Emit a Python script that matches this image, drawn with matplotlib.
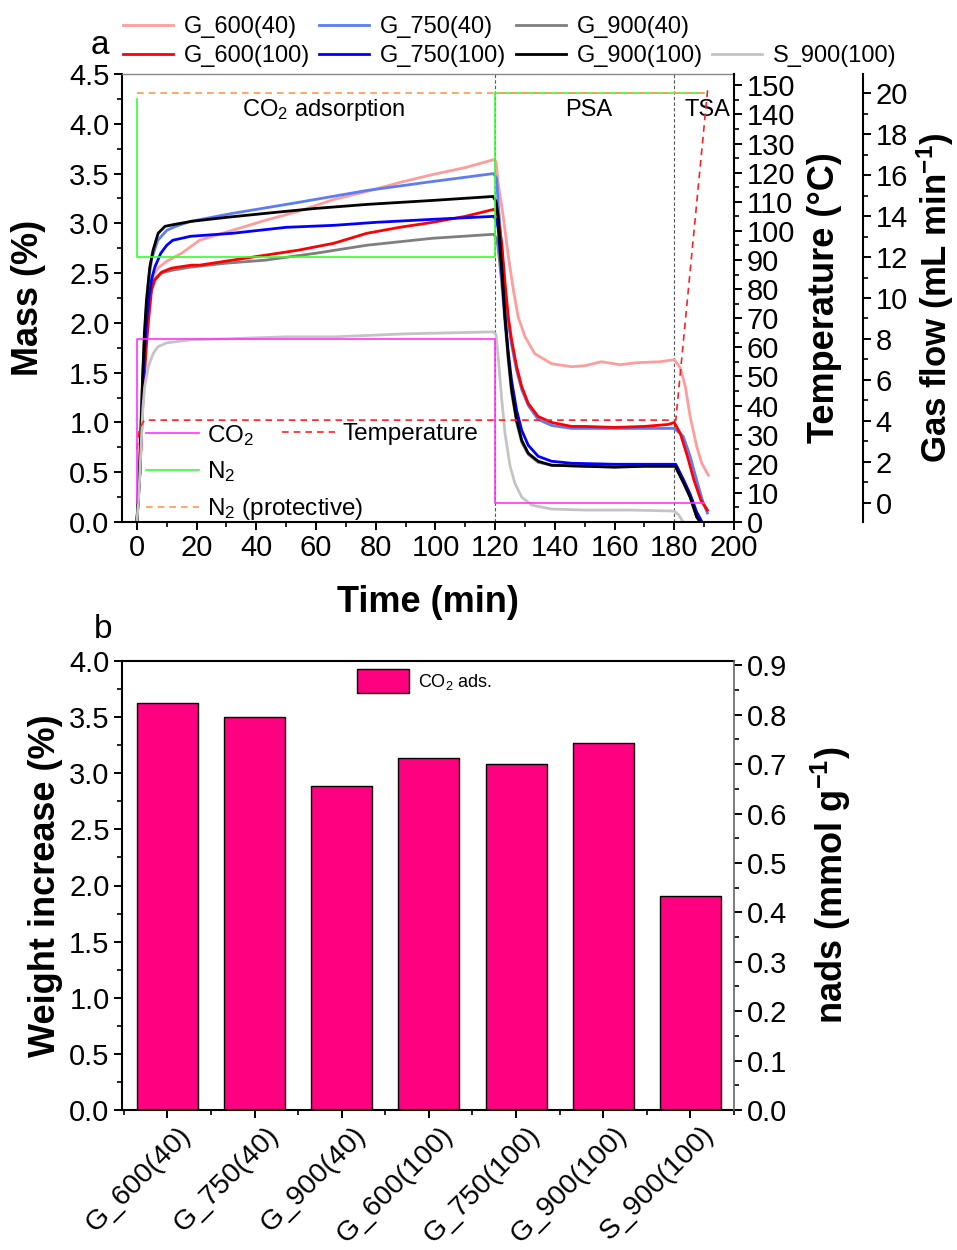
import matplotlib
matplotlib.use("Agg")
import matplotlib.pyplot as plt
from matplotlib.lines import Line2D
from matplotlib.ticker import MultipleLocator, FixedLocator, FormatStrFormatter
from matplotlib.transforms import ScaledTranslation

plt.rcParams['font.family'] = ['Liberation Sans', 'DejaVu Sans']
plt.rcParams['mathtext.fontset'] = 'custom'
plt.rcParams['mathtext.rm'] = 'Liberation Sans'
plt.rcParams['mathtext.it'] = 'Liberation Sans:italic'
plt.rcParams['mathtext.bf'] = 'Liberation Sans:bold'

# ---------------- data: panel a (mass vs time) ----------------
t_g600_40 = [0, 0.5, 1.5, 2.5, 3.5, 5, 7, 10, 15, 21, 32, 43, 54, 66, 77, 88, 99, 110, 119.5,
             120.3, 121, 122.7, 124.4, 126.1, 127.7, 130, 133.3, 138.9, 145.6, 150, 155.6, 161.8,
             167.4, 175.2, 180, 182, 183.7, 185.3, 187.5, 189.2, 191.4]
m_g600_40 = [0, 0.4, 1.2, 1.8, 2.2, 2.45, 2.55, 2.62, 2.7, 2.83, 2.93, 3.03, 3.12, 3.24, 3.32, 3.41, 3.49, 3.56, 3.64,
             3.62, 3.4, 3.07, 2.67, 2.33, 2.06, 1.86, 1.69, 1.59, 1.56, 1.57, 1.61, 1.58,
             1.6, 1.61, 1.63, 1.55, 1.36, 1.06, 0.76, 0.59, 0.47]

t_g750_40 = [0, 1, 2, 3, 4, 5, 7, 10, 13, 18, 32, 54, 77, 99, 119.5,
             120.5, 121, 122.2, 123.3, 124.4, 125.5, 127.2, 128.9, 131.1, 134.4, 138.9, 145.6, 160, 170, 180,
             183, 185.3, 187.5, 189.7, 191.1]
m_g750_40 = [0, 0.6, 1.5, 2.1, 2.45, 2.65, 2.83, 2.93, 2.97, 3.02, 3.1, 3.21, 3.33, 3.42, 3.5,
             3.45, 3.2, 2.75, 2.3, 2.0, 1.78, 1.52, 1.33, 1.17, 1.03, 0.97, 0.94, 0.94, 0.94, 0.94,
             0.86, 0.66, 0.42, 0.19, 0.09]

t_g900_40 = [0, 1, 2, 3, 4, 5.5, 8, 12, 18, 30, 43, 60, 77, 99, 119.5,
             120.5, 121, 122.2, 123.3, 124.4, 125.5, 127.2, 128.9, 131.1, 134.4, 138.9, 150, 170, 180.3,
             183, 185.3, 187.5, 188.7]
m_g900_40 = [0, 0.5, 1.3, 1.9, 2.2, 2.43, 2.5, 2.53, 2.56, 2.6, 2.63, 2.7, 2.78, 2.85, 2.89,
             2.85, 2.75, 2.4, 2.0, 1.62, 1.3, 1.0, 0.8, 0.68, 0.6, 0.57, 0.56, 0.56, 0.56,
             0.4, 0.25, 0.05, 0.0]

t_g600_100 = [0, 1, 2, 3, 3.8, 4.9, 6, 8.3, 11.6, 18.3, 21, 32, 43, 54, 66, 77, 88, 99, 110, 119.5,
              120.5, 121, 122.2, 123.3, 124.4, 125.5, 127.2, 128.9, 131.1, 134.4, 138.9, 145.6, 150, 160, 170,
              178, 180, 182, 184.4, 186.6, 188.9, 191.1]
m_g600_100 = [0, 0.5, 1.2, 1.7, 2.0, 2.33, 2.43, 2.51, 2.55, 2.58, 2.58, 2.63, 2.68, 2.73, 2.8, 2.9, 2.96, 3.01, 3.07, 3.14,
              3.12, 3.05, 2.8, 2.4, 2.06, 1.83, 1.56, 1.36, 1.19, 1.06, 1.0, 0.96, 0.96, 0.95, 0.96,
              0.98, 1.0, 0.89, 0.66, 0.42, 0.22, 0.12]

t_g750_100 = [0, 1, 2, 3, 4, 5, 6, 8, 10, 12, 18, 32, 50, 66, 80, 99, 119.5,
              120.5, 121, 122.2, 123.3, 124.4, 125.5, 127.2, 128.9, 131.1, 134.4, 138.9, 145.6, 160, 170, 180.5,
              183, 185.3, 187.5, 189.3]
m_g750_100 = [0, 0.5, 1.4, 1.95, 2.25, 2.45, 2.56, 2.7, 2.78, 2.83, 2.87, 2.9, 2.96, 2.98, 3.01, 3.04, 3.07,
              3.03, 2.95, 2.5, 2.05, 1.7, 1.42, 1.12, 0.92, 0.77, 0.66, 0.61, 0.59, 0.58, 0.58, 0.58,
              0.43, 0.28, 0.1, 0.0]

t_g900_100 = [0, 1, 1.9, 2.5, 3.2, 4.3, 5.4, 7.1, 9.4, 12.7, 18.3, 30, 43, 60, 77, 99, 119.3,
              120.3, 121, 122.2, 123.3, 124.4, 125.5, 127.2, 128.9, 131.1, 134.4, 138.9, 150, 160, 170, 180.3,
              183, 185.3, 187.5, 188.7]
m_g900_100 = [0, 0.6, 1.45, 1.9, 2.23, 2.56, 2.73, 2.9, 2.97, 2.99, 3.02, 3.06, 3.1, 3.15, 3.19, 3.23, 3.27,
              3.22, 3.07, 2.56, 2.06, 1.66, 1.33, 1.02, 0.82, 0.69, 0.61, 0.57, 0.56, 0.55, 0.56, 0.56,
              0.4, 0.25, 0.05, 0.0]

t_s900_100 = [0, 0.7, 1.3, 2, 2.6, 3.8, 5.4, 7, 10, 18, 30, 50, 66, 90, 119.5,
              120.3, 121, 122.2, 123.3, 125, 126.6, 128.9, 132.2, 138.9, 150, 165, 180, 181.5, 183]
m_s900_100 = [0, 0.3, 0.7, 1.15, 1.36, 1.56, 1.69, 1.76, 1.8, 1.83, 1.84, 1.86, 1.86, 1.89, 1.91,
              1.88, 1.66, 1.23, 0.89, 0.56, 0.39, 0.25, 0.17, 0.13, 0.12, 0.12, 0.11, 0.07, 0.0]

series_labels = ["G_600(40)", "G_750(40)", "G_900(40)", "G_600(100)", "G_750(100)", "G_900(100)", "S_900(100)"]
series_colors = ["#FF9C9C", "#5C7CF8", "#7F7F7F", "#FF0000", "#0000FF", "#000000", "#C4C4C4"]

# gas flow (mL/min) and temperature (degC)
t_co2 = [0, 0, 120, 120, 190]
f_co2 = [0, 8, 8, 0, 0]
t_n2 = [0, 0, 120, 120, 190]
f_n2 = [19.7, 12, 12, 20, 20]
t_n2p = [0, 191]
f_n2p = [20, 20]
t_temp = [0, 0.8, 2.5, 180.5, 191.3]
v_temp = [25, 32, 35, 35, 150]

# ---------------- data: panel b (bars) ----------------
bar_labels = ["G_600(40)", "G_750(40)", "G_900(40)", "G_600(100)", "G_750(100)", "G_900(100)", "S_900(100)"]
bar_values = [3.63, 3.50, 2.89, 3.14, 3.08, 3.27, 1.91]

# ---------------- figure ----------------
W, H = 957, 1250
fig = plt.figure(figsize=(W / 100, H / 100), dpi=100)


def rect(l, t, r, b):
    return [l / W, 1 - b / H, (r - l) / W, (b - t) / H]


TICK = 21
LAB = 26
ANN = 17

ax = fig.add_axes(rect(122, 74, 734, 522))
ax2 = ax.twinx()
ax3 = ax.twinx()

data_t = [t_g600_40, t_g750_40, t_g900_40, t_g600_100, t_g750_100, t_g900_100, t_s900_100]
data_m = [m_g600_40, m_g750_40, m_g900_40, m_g600_100, m_g750_100, m_g900_100, m_s900_100]
handles = []
for tt, mm, lab, col in zip(data_t, data_m, series_labels, series_colors):
    h, = ax.plot(tt, mm, color=col, lw=2.0, label=lab, solid_joinstyle='round')
    handles.append(h)

ax.axvline(120, color='#555555', lw=0.8, ls=(0, (3, 2)), zorder=1)
ax.axvline(180, color='#555555', lw=0.8, ls=(0, (3, 2)), zorder=1)

ax.set_xlim(-5, 200)
ax.set_ylim(0, 4.5)
ax.xaxis.set_major_locator(MultipleLocator(20))
ax.xaxis.set_minor_locator(MultipleLocator(10))
ax.yaxis.set_major_locator(MultipleLocator(0.5))
ax.yaxis.set_minor_locator(MultipleLocator(0.25))
ax.yaxis.set_major_formatter(FormatStrFormatter('%.1f'))
ax.set_xlabel("Time (min)", fontsize=LAB, fontweight='bold')
ax.set_ylabel("Mass (%)", fontsize=LAB, fontweight='bold')
ax.yaxis.set_label_coords((46 - 122) / 612, 0.5)
ax.xaxis.set_label_coords(0.5, (522 - 585) / 448)
ax.spines['top'].set_color('#888888')
ax.spines['top'].set_linewidth(1.0)
ax.spines['right'].set_visible(False)
for s in ['left', 'bottom']:
    ax.spines[s].set_linewidth(1.5)
ax.tick_params(axis='both', which='major', labelsize=TICK, direction='out', length=6, width=1.4, pad=3)
ax.tick_params(axis='both', which='minor', direction='out', length=3.5, width=1.2)

ax.text(62.6, 4.14, r"CO$_2$ adsorption", ha='center', va='center', fontsize=ANN)
ax.text(151.4, 4.14, "PSA", ha='center', va='center', fontsize=ANN)
ax.text(191.0, 4.14, "TSA", ha='center', va='center', fontsize=ANN)

# temperature axis
ax2.plot(t_temp, v_temp, color='#FF2020', lw=1.2, ls=(0, (4, 3)))
ax2.set_ylim(0, 153.9)
ax2.yaxis.set_major_locator(MultipleLocator(10))
ax2.yaxis.set_minor_locator(MultipleLocator(5))
for s in ['left', 'top', 'bottom']:
    ax2.spines[s].set_visible(False)
ax2.spines['right'].set_linewidth(1.5)
ax2.tick_params(axis='y', which='major', labelsize=TICK, direction='out', length=6, width=1.4, pad=3)
ax2.tick_params(axis='y', which='minor', direction='out', length=3.5, width=1.2)
ax2.set_ylabel("Temperature (°C)", fontsize=LAB, fontweight='bold')
ax2.yaxis.set_label_coords((807 - 122) / 612, 0.5)

# gas flow axis
ax3.plot(t_co2, f_co2, color='#FF33FF', lw=1.2)
ax3.plot(t_n2, f_n2, color='#33FF33', lw=1.2)
ax3.plot(t_n2p, f_n2p, color='#FF9A50', lw=1.2, ls=(0, (4, 3)))
ax3.set_ylim(-0.93, 20.93)
ax3.yaxis.set_major_locator(MultipleLocator(2))
ax3.yaxis.set_minor_locator(MultipleLocator(1))
for s in ['left', 'top', 'bottom']:
    ax3.spines[s].set_visible(False)
ax3.spines['right'].set_position(('axes', (863 - 122) / 612))
ax3.spines['right'].set_linewidth(1.5)
ax3.tick_params(axis='y', which='major', labelsize=TICK, direction='out', length=6, width=1.4, pad=3)
ax3.tick_params(axis='y', which='minor', direction='out', length=3.5, width=1.2)
ax3.set_ylabel(r"Gas flow (mL min$^{\mathbf{-1}}$)", fontsize=25, fontweight='bold')
ax3.yaxis.set_label_coords((914 - 122) / 612, 0.5)

# inner legends
gh = [Line2D([], [], color='#FF33FF', lw=1.2),
      Line2D([], [], color='#33FF33', lw=1.2),
      Line2D([], [], color='#FF9A50', lw=1.2, ls=(0, (4, 3)))]
gl = [r"CO$_2$", r"N$_2$", r"N$_2$ (protective)"]
leg1 = ax3.legend(gh, gl, loc='upper left', bbox_to_anchor=((146 - 122) / 612, (522 - 423) / 448),
                  frameon=False, fontsize=17.5, handlelength=2.2, handletextpad=0.3,
                  borderpad=0, borderaxespad=0, labelspacing=0.48)
ax3.add_artist(leg1)
ax3.legend([Line2D([], [], color='#FF2020', lw=1.2, ls=(0, (4, 3)))], ["Temperature"],
           loc='upper left', bbox_to_anchor=((282 - 122) / 612, (522 - 423) / 448),
           frameon=False, fontsize=17.5, handlelength=2.2, handletextpad=0.3,
           borderpad=0, borderaxespad=0)

# top legend
blank = Line2D([], [], color='none')
order = [0, 3, 1, 4, 2, 5]
lh = [handles[i] for i in order] + [blank, handles[6]]
ll = [series_labels[i] for i in order] + [" ", series_labels[6]]
fig.legend(lh, ll, ncol=4, loc='upper left', bbox_to_anchor=(123 / W, 1 - 16 / H),
           frameon=False, fontsize=17, handlelength=2.12, handletextpad=0.45,
           columnspacing=0.4, borderpad=0, borderaxespad=0, labelspacing=0.3)

fig.text(100 / W, 1 - 45 / H, "a", fontsize=24, ha='center', va='center')
fig.text(103 / W, 1 - 630 / H, "b", fontsize=24, ha='center', va='center')

# ---------------- panel b ----------------
axb = fig.add_axes(rect(122, 661, 734, 1110))
x = list(range(len(bar_labels)))
axb.bar(x, bar_values, width=0.7, color='#FF0080', edgecolor='black', linewidth=1.0,
        label=r"CO$_2$ ads.")
axb.set_xlim(-0.52, 6.5)
axb.set_ylim(0, 4.0)
axb.set_xticks(x)
axb.xaxis.set_minor_locator(FixedLocator([i + 0.5 for i in range(-1, 7)]))
axb.yaxis.set_major_locator(MultipleLocator(0.5))
axb.yaxis.set_minor_locator(MultipleLocator(0.25))
axb.yaxis.set_major_formatter(FormatStrFormatter('%.1f'))
axb.tick_params(axis='both', which='major', labelsize=TICK, direction='out', length=6, width=1.4, pad=3)
axb.tick_params(axis='both', which='minor', direction='out', length=3.5, width=1.2)
axb.tick_params(axis='x', which='major', pad=9)
axb.set_xticklabels(bar_labels, rotation=45, ha='right', va='center', rotation_mode='anchor', fontsize=20.5)
shift = ScaledTranslation(20 / 100, 0, fig.dpi_scale_trans)
for lbl in axb.get_xticklabels():
    lbl.set_transform(lbl.get_transform() + shift)
axb.set_ylabel("Weight increase (%)", fontsize=LAB, fontweight='bold')
axb.yaxis.set_label_coords((63 - 122) / 612, 0.5)
for s in ['left', 'bottom', 'top']:
    axb.spines[s].set_linewidth(1.5)
axb.spines['right'].set_visible(False)
axb.legend(loc='upper left', bbox_to_anchor=((357 - 122) / 612, (1110 - 669) / 449),
           frameon=False, fontsize=13, handlelength=2.9, handleheight=1.7, handletextpad=0.5,
           borderpad=0, borderaxespad=0)

axb2 = axb.twinx()
axb2.set_ylim(0, 4.0 / 4.401)
axb2.yaxis.set_major_locator(MultipleLocator(0.1))
axb2.yaxis.set_minor_locator(MultipleLocator(0.05))
axb2.yaxis.set_major_formatter(FormatStrFormatter('%.1f'))
for s in ['left', 'top', 'bottom']:
    axb2.spines[s].set_visible(False)
axb2.spines['right'].set_color('#666666')
axb2.spines['right'].set_linewidth(1.2)
axb2.tick_params(axis='y', which='major', labelsize=TICK, direction='out', length=6, width=1.4, pad=3)
axb2.tick_params(axis='y', which='minor', direction='out', length=3.5, width=1.2)
axb2.set_ylabel(r"nads (mmol g$^{\mathbf{-1}}$)", fontsize=LAB, fontweight='bold')
axb2.yaxis.set_label_coords((809 - 122) / 612, 0.5)

fig.savefig("out.png", dpi=100)
